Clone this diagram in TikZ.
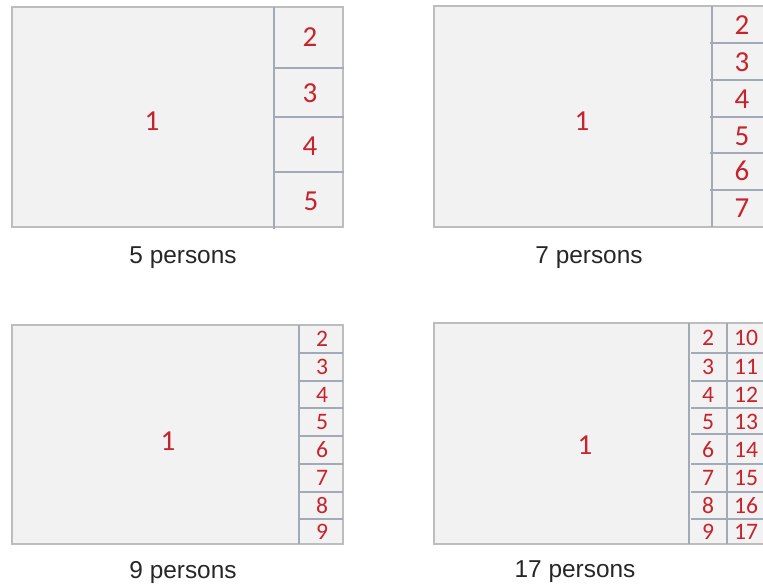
\documentclass[tikz,border=0pt]{standalone}
\usepackage{fontspec}
\setmainfont{Liberation Sans}
\newfontfamily\numfont{Carlito}
\usepackage{tikz}
\usetikzlibrary{positioning}
\definecolor{seatfill}{HTML}{F2F2F2}
\definecolor{seatframe}{HTML}{BDBDBD}
\definecolor{seatline}{HTML}{A2A9B7}
\definecolor{seatred}{HTML}{C8232C}

\begin{document}
\begin{tikzpicture}[
    x=0.5pt, y=-0.5pt,
    every node/.style={inner sep=0pt},
    frame/.style={draw=seatframe, fill=seatfill, line width=0.8pt},
    divider/.style={draw=seatline, line width=0.6pt},
    bignum/.style={text=seatred, font=\numfont\fontsize{14.5}{16}\selectfont},
    smallnum/.style={text=seatred, font=\numfont\fontsize{11.8}{13}\selectfont},
    caption/.style={font=\fontsize{12.2}{14}\selectfont, text=black!85}
]
    \useasboundingbox (0,0) rectangle (763,586);
    \clip (0,0) rectangle (763,586);

    % 5 persons
    \draw[frame] (12,7) rectangle (343,227);
    \draw[divider] (274,7) -- (274,229);
    \foreach \y in {68,117,172} \draw[divider] (274,\y) -- (344,\y);
    \node[bignum] (fiveA) at (152,121) {1};
    \node[bignum] (fiveB) at (310,37) {2};
    \node[bignum] (fiveC) at (310,93) {3};
    \node[bignum] (fiveD) at (310,146) {4};
    \node[bignum] (fiveE) at (311,201) {5};
    \node[caption] (fivecap) at (183,258) {5 persons};

    % 7 persons
    \draw[frame] (434,6) rectangle (790,227);
    \draw[divider] (712,6) -- (712,227);
    \foreach \y in {43,80,117,153,190} \draw[divider] (710,\y) -- (790,\y);
    \node[bignum] (sevenA) at (582,121) {1};
    \foreach \n/\y in {2/25,3/62,4/99,5/136,6/171,7/208}
        \node[bignum] (seven\n) at (742,\y) {\n};
    \node[caption] (sevencap) at (589,258) {7 persons};

    % 9 persons
    \draw[frame] (12,325) rectangle (343,544);
    \draw[divider] (299,325) -- (299,544);
    \foreach \y in {353,381,408,436,464,492,519} \draw[divider] (299,\y) -- (343,\y);
    \node[bignum] (nineA) at (168,441) {1};
    \foreach \n/\y in {2/339,3/367,4/395,5/422,6/450,7/478,8/506,9/532}
        \node[smallnum] (nine\n) at (322,\y) {\n};
    \node[caption] (ninecap) at (183,572) {9 persons};

    % 17 persons
    \draw[frame] (434,323) rectangle (790,544);
    \draw[divider] (689,323) -- (689,544);
    \draw[divider] (727,323) -- (727,544);
    \foreach \y in {353,381,408,434,464,492,519} \draw[divider] (691,\y) -- (790,\y);
    \node[bignum] (seventeenA) at (585,445) {1};
    \foreach \n/\m/\y in {2/10/338,3/11/367,4/12/395,5/13/422,6/14/450,7/15/478,8/16/506,9/17/532} {
        \node[smallnum] (left\n) at (708,\y) {\n};
        \node[smallnum, right=19pt of left\n.center, anchor=center] (right\m) {\m};
    }
    \node[caption] (seventeencap) at (575,572) {17 persons};
\end{tikzpicture}
\end{document}
